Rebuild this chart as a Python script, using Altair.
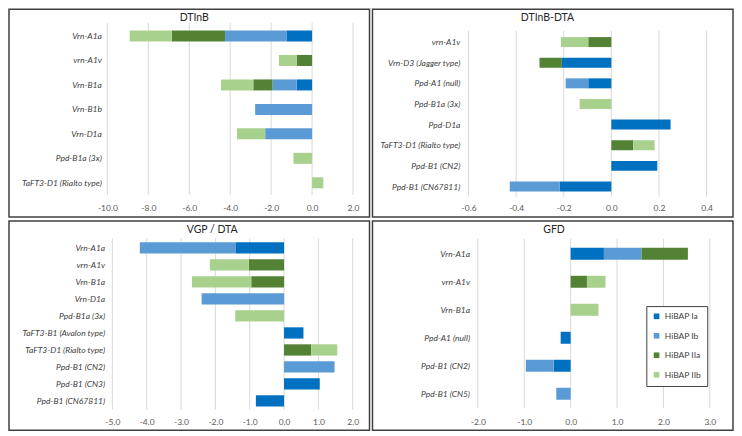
import altair as alt
import pandas as pd

GROUPS = ["HiBAP Ia", "HiBAP Ib", "HiBAP IIa", "HiBAP IIb"]
COLORS = ["#0070C0", "#5B9BD5", "#548235", "#A9D18E"]

# Panel DTInB
dtinb_genes = ["Vrn-A1a", "vrn-A1v", "Vrn-B1a", "Vrn-B1b", "Vrn-D1a",
               "Ppd-B1a (3x)", "TaFT3-D1 (Rialto type)"]
dtinb_Ia = [-1.23, 0, -0.75, 0, 0, 0, 0]
dtinb_Ib = [-3.02, 0, -1.18, -2.78, -2.29, 0, 0]
dtinb_IIa = [-2.60, -0.75, -0.94, 0, 0, 0, 0]
dtinb_IIb = [-2.06, -0.87, -1.58, 0, -1.38, -0.91, 0.55]
dtinb_ticks = [-10, -8, -6, -4, -2, 0, 2]

# Panel DTInB-DTA
dd_genes = ["vrn-A1v", "Vrn-D3 (Jagger type)", "Ppd-A1 (null)", "Ppd-B1a (3x)",
            "Ppd-D1a", "TaFT3-D1 (Rialto type)", "Ppd-B1 (CN2)", "Ppd-B1 (CN67811)"]
dd_Ia = [0, -0.208, -0.097, 0, 0.249, 0, 0.193, -0.218]
dd_Ib = [0, 0, -0.095, 0, 0, 0, 0, -0.209]
dd_IIa = [-0.097, -0.094, 0, 0, 0, 0.092, 0, 0]
dd_IIb = [-0.115, 0, 0, -0.133, 0, 0.090, 0, 0]
dd_ticks = [-0.6, -0.4, -0.2, 0.0, 0.2, 0.4]

# Panel VGP / DTA
vgp_genes = ["Vrn-A1a", "vrn-A1v", "Vrn-B1a", "Vrn-D1a", "Ppd-B1a (3x)",
             "TaFT3-B1 (Avalon type)", "TaFT3-D1 (Rialto type)", "Ppd-B1 (CN2)",
             "Ppd-B1 (CN3)", "Ppd-B1 (CN67811)"]
vgp_Ia = [-1.40, 0, 0, 0, 0, 0.565, 0, 0, 1.04, -0.82]
vgp_Ib = [-2.80, 0, 0, -2.40, 0, 0, 0, 1.47, 0, 0]
vgp_IIa = [0, -1.03, -0.955, 0, 0, 0, 0.79, 0, 0, 0]
vgp_IIb = [0, -1.13, -1.725, 0, -1.42, 0, 0.76, 0, 0, 0]
vgp_ticks = [-5, -4, -3, -2, -1, 0, 1, 2]

# Panel GFD
gfd_genes = ["Vrn-A1a", "vrn-A1v", "Vrn-B1a", "Ppd-A1 (null)", "Ppd-B1 (CN2)", "Ppd-B1 (CN5)"]
gfd_Ia = [0.717, 0, 0, -0.215, -0.366, 0]
gfd_Ib = [0.81, 0, 0, 0, -0.60, -0.31]
gfd_IIa = [1.0, 0.351, 0, 0, 0, 0]
gfd_IIb = [0, 0.40, 0.60, 0, 0, 0]
gfd_ticks = [-2, -1, 0, 1, 2, 3]

FONT = "Lato"
LABEL_EXPR = "replace(format(datum.value, '.1f'), '\u2212', '-')"


def make_df(genes, series):
    rows = []
    for gi, (g, vals) in enumerate(zip(GROUPS, series)):
        for gene, v in zip(genes, vals):
            if v != 0:
                rows.append({"gene": gene, "grp": g, "ord": gi, "val": v})
    return pd.DataFrame(rows)


def panel(title, genes, series, ticks, xdom, xrange, yrange, pin,
          xoff, xlp, yoff, ylp, tcx, tcy, W, H, legend=None):
    df = make_df(genes, series)
    xs = alt.Scale(domain=xdom, range=xrange, nice=False, zero=False)
    xaxis = alt.Axis(values=ticks, labelExpr=LABEL_EXPR, grid=False, domain=False,
                     ticks=False, labelPadding=xlp, offset=xoff,
                     labelFlush=False, labelOverlap=False,
                     labelFont=FONT, labelFontSize=8.5, labelColor="#595959")
    grid = alt.Chart(pd.DataFrame({"val": ticks})).mark_rule(
        color="#D9D9D9", strokeWidth=1
    ).encode(
        x=alt.X("val:Q", scale=xs, axis=xaxis, title=None),
        y=alt.value(yrange[0] - 1),
        y2=alt.value(yrange[1]),
    )
    color_kw = dict(scale=alt.Scale(domain=GROUPS, range=COLORS), title=None)
    if legend is None:
        color = alt.Color("grp:N", legend=None, **color_kw)
    else:
        color = alt.Color("grp:N", legend=legend, **color_kw)
    bars = alt.Chart(df).mark_bar().encode(
        x=alt.X("val:Q", scale=xs, stack="zero", title=None, axis=xaxis),
        y=alt.Y("gene:N", sort=genes, title=None,
                scale=alt.Scale(range=yrange, paddingInner=pin, paddingOuter=pin / 2),
                axis=alt.Axis(domain=False, ticks=False, grid=False, labelPadding=ylp,
                              offset=yoff, labelFontStyle="italic", labelLimit=300,
                              labelFont=FONT, labelFontSize=8.5, labelColor="#404040")),
        color=color,
        order=alt.Order("ord:Q", sort="ascending"),
    )
    ttl = alt.Chart(pd.DataFrame({"t": [title]})).mark_text(
        font=FONT, fontSize=10.5, color="#262626", align="center", baseline="middle"
    ).encode(text="t:N", x=alt.value(tcx), y=alt.value(tcy))
    return alt.layer(grid, bars, ttl).properties(width=W, height=H)


p1 = panel("DTInB", dtinb_genes, [dtinb_Ia, dtinb_Ib, dtinb_IIa, dtinb_IIb], dtinb_ticks,
           [-10, 2], [98.5, 344.5], [14.5, 186], 0.55,
           -22, 8.2, -98.5, 6, 185.5, 8.5, 361, 208)
p2 = panel("DTInB-DTA", dd_genes, [dd_Ia, dd_Ib, dd_IIa, dd_IIb], dd_ticks,
           [-0.6, 0.4], [96.2, 334.5], [22.5, 187.8], 0.516,
           -20.2, 6.6, -96.2, 8.7, 175.2, 8.5, 361, 208)
p3 = panel("VGP / DTA", vgp_genes, [vgp_Ia, vgp_Ib, vgp_IIa, vgp_IIb], vgp_ticks,
           [-5, 2], [103.5, 344.2], [18.5, 188.7], 0.336,
           -20.8, 7.6, -103.5, 7.7, 203.5, 9.5, 361, 209.5)
leg = alt.Legend(orient="none", legendX=274.2, legendY=85.2, symbolType="square",
                 symbolSize=32, symbolStrokeWidth=0, labelFont=FONT, labelFontSize=8.5,
                 labelColor="#404040", rowPadding=10.5, padding=6, labelOffset=4,
                 strokeColor="#404040", fillColor="white")
p4 = panel("GFD", gfd_genes, [gfd_Ia, gfd_Ib, gfd_IIa, gfd_IIb], gfd_ticks,
           [-2, 3], [105.5, 337.8], [18.8, 187], 0.572,
           -22.5, 9.9, -105.5, 8.3, 181.8, 9.2, 361, 209.5, legend=leg)

chart = alt.concat(
    p1, p2, p3, p4, columns=2, spacing={"row": 4, "column": 3}, bounds="flush"
).properties(padding=0).resolve_scale(
    color="independent", x="independent", y="independent"
).configure_view(stroke="#404040", strokeWidth=1.5)

chart.save("out.html", embed_options={"renderer": "svg", "actions": False})
